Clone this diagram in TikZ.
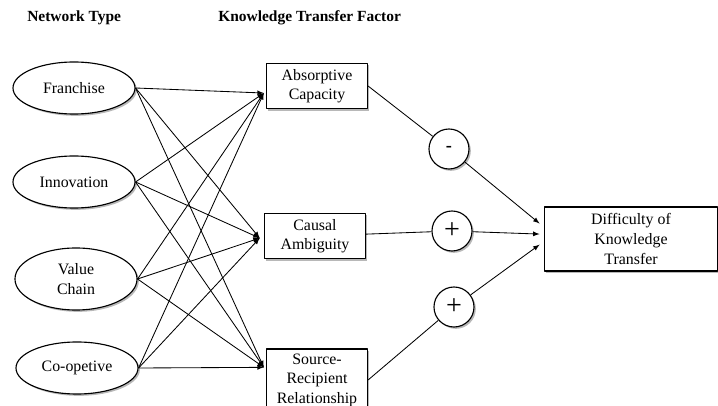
\documentclass[tikz,border=0pt]{standalone}
\usepackage{fontspec}
\setmainfont{Liberation Serif}
\usetikzlibrary{shapes.geometric, shadows}

\tikzset{
  txt/.style={font=\fontsize{11.3}{13.9}\selectfont, align=center},
  header/.style={font=\fontsize{11}{13}\selectfont\bfseries, anchor=west, inner sep=0pt},
  shade/.style={drop shadow={shadow xshift=1.3pt, shadow yshift=-1.3pt, fill=gray!70, opacity=0.8}},
  nettype/.style={txt, ellipse, draw, line width=0.8pt, fill=white, shade,
    minimum width=3.05cm, minimum height=1.3cm, inner sep=0pt},
  factor/.style={txt, rectangle, draw, line width=0.8pt, fill=white, shade,
    minimum width=2.525cm, minimum height=1.14cm, inner sep=1pt},
  sign/.style={circle, draw, line width=0.8pt, fill=white, shade,
    minimum size=1cm, inner sep=0pt},
  link/.style={line width=0.6pt}
}

\begin{document}
\begin{tikzpicture}[>=latex, x=0.025cm, y=-0.025cm, line join=round]
  \clip (0,0) rectangle (718,406);

  % column headings
  \node[header] (h1) at (27,18) {Network Type};
  \node[header] (h2) at (218,18) {Knowledge Transfer Factor};

  % network types
  \node[nettype] (fran)   at (74,88)  {Franchise};
  \node[nettype] (innov)  at (74,182) {Innovation};
  \node[nettype, minimum height=1.55cm] (vchain) at (76,279) {Value\\Chain};
  \node[nettype] (coop)   at (77,368) {Co-opetive};

  % transfer factors
  \node[factor] (ac) at (317,86)  {Absorptive\\Capacity};
  \node[factor] (ca) at (315,236) {Causal\\Ambiguity};
  \node[factor, minimum height=1.55cm] (sr) at (317,380) {Source-\\Recipient\\Relationship};

  % outcome
  \node[factor, minimum width=4.33cm, minimum height=1.6cm] (dk) at (631,239)
    {Difficulty of\\Knowledge\\Transfer};

  % signs
  \node[sign] (minus) at (449,149) {\fontsize{13}{13}\selectfont\bfseries -};
  \node[sign] (plusa) at (452,231) {\fontsize{20}{20}\selectfont +};
  \node[sign] (plusb) at (454,307) {\fontsize{20}{20}\selectfont +};

  % arrow entry points
  \coordinate (ac-in) at ([xshift=-1.5pt, yshift=-5pt]ac.west);
  \coordinate (ca-in) at ([xshift=-3pt, yshift=-1.5pt]ca.west);
  \coordinate (sr-in) at ([xshift=-1.5pt, yshift=9pt]sr.west);
  \coordinate (dk-a) at ([xshift=-3pt, yshift=11pt]dk.west);
  \coordinate (dk-b) at ([xshift=-3pt, yshift=3.5pt]dk.west);
  \coordinate (dk-c) at ([xshift=-3pt, yshift=-4pt]dk.west);

  % every network type feeds every factor
  \foreach \src in {fran, innov, vchain, coop}
    \foreach \dst in {ac-in, ca-in, sr-in}
      \draw[link, ->] (\src.east) -- (\dst);

  % factors to difficulty
  \draw[link] (ac.east) -- (minus);
  \draw[link, ->] (minus) -- (dk-a);
  \draw[link] (ca) -- (plusa);
  \draw[link, ->] (plusa) -- (dk-b);
  \draw[link] (sr.east) -- (plusb);
  \draw[link, ->] (plusb) -- (dk-c);
\end{tikzpicture}
\end{document}
